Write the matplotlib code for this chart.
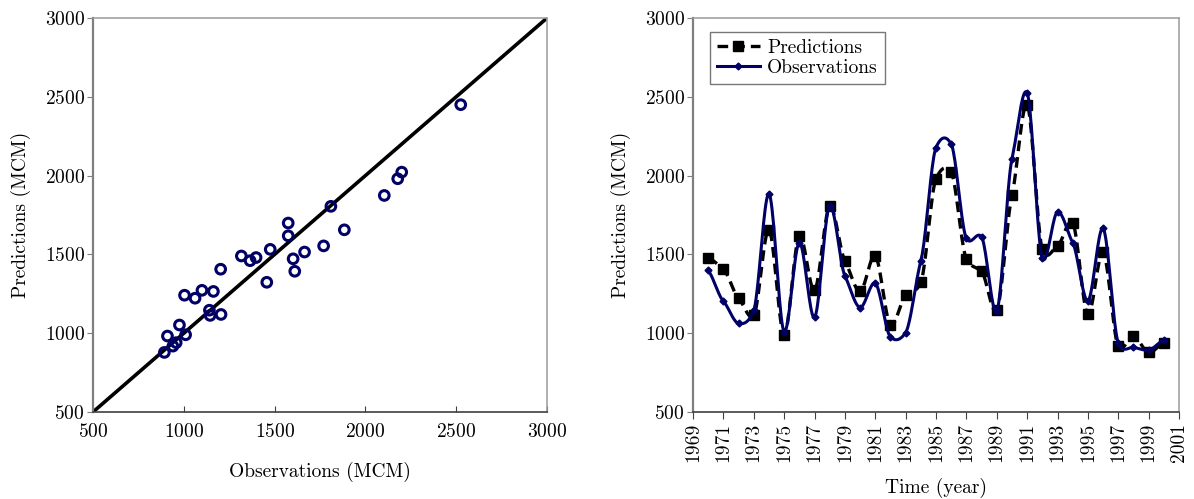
import matplotlib
matplotlib.use("Agg")
import numpy as np
import matplotlib.pyplot as plt

plt.rcParams['font.family'] = 'serif'
plt.rcParams['font.serif'] = ['cmr10']
plt.rcParams['mathtext.fontset'] = 'cm'
plt.rcParams['axes.formatter.use_mathtext'] = True

# ── data ──
YEARS = list(range(1970, 2001))
OBSERVED = [1398, 1203, 1062, 1145, 1884, 1010, 1575, 1100, 1810, 1365,
            1163, 1317, 976, 1004, 1457, 2178, 2200, 1602, 1611, 1141,
            2104, 2525, 1476, 1770, 1575, 1205, 1665, 940, 910, 893, 958]
PREDICTED = [1480, 1406, 1222, 1113, 1656, 990, 1618, 1272, 1805, 1460,
             1265, 1490, 1052, 1241, 1323, 1980, 2022, 1472, 1393, 1146,
             1874, 2450, 1532, 1554, 1699, 1119, 1515, 918, 982, 878, 940]

AXIS_TICKS = [500, 1000, 1500, 2000, 2500, 3000]
YEAR_TICKS = list(range(1969, 2002, 2))

NAVY = '#000066'


def smooth(x, y, n=20, tension=0.6):
    # cubic Hermite through the points (spreadsheet-like "smoothed line")
    x = np.asarray(x, float)
    y = np.asarray(y, float)
    py = np.concatenate([[2 * y[0] - y[1]], y, [2 * y[-1] - y[-2]]])
    m = tension * (py[2:] - py[:-2]) / 2.0
    t = np.linspace(0, 1, n, endpoint=False)
    h00 = 2 * t ** 3 - 3 * t ** 2 + 1
    h10 = t ** 3 - 2 * t ** 2 + t
    h01 = -2 * t ** 3 + 3 * t ** 2
    h11 = t ** 3 - t ** 2
    xs, ys = [], []
    for i in range(len(x) - 1):
        xs.extend(x[i] + (x[i + 1] - x[i]) * t)
        ys.extend(h00 * y[i] + h10 * m[i] + h01 * y[i + 1] + h11 * m[i + 1])
    xs.append(x[-1])
    ys.append(y[-1])
    return np.array(xs), np.array(ys)


def style_box(ax):
    ax.spines['left'].set_color('#7f7f7f')
    ax.spines['left'].set_linewidth(1.6)
    ax.spines['bottom'].set_color('#404040')
    ax.spines['bottom'].set_linewidth(1.2)
    for s in ('top', 'right'):
        ax.spines[s].set_color('#9a9a9a')
        ax.spines[s].set_linewidth(1.1)


fig = plt.figure(figsize=(11.94, 4.99), dpi=100)

# ── Left panel: predictions vs observations ──
ax = fig.add_axes([93 / 1194, 87 / 499, 454 / 1194, 394 / 499])
ax.plot([500, 3000], [500, 3000], color='black', lw=2.6, zorder=2)
ax.scatter(OBSERVED, PREDICTED, s=48, facecolors='none', edgecolors=NAVY,
           linewidths=2.2, zorder=3)
ax.set_xlim(500, 3000)
ax.set_ylim(500, 3000)
ax.set_xticks(AXIS_TICKS)
ax.set_yticks(AXIS_TICKS)
ax.tick_params(axis='x', direction='in', length=4, labelsize=14, pad=8, color='#404040')
ax.tick_params(axis='y', direction='out', length=4, labelsize=14, pad=2, color='#7f7f7f')
ax.set_xlabel('Observations (MCM)', fontsize=14, labelpad=15)
ax.set_ylabel('Predictions (MCM)', fontsize=14, labelpad=10)
style_box(ax)

# ── Right panel: time series ──
ax2 = fig.add_axes([693 / 1194, 87 / 499, 486 / 1194, 394 / 499])
sx, sy = smooth(YEARS, PREDICTED)
ax2.plot(sx, sy, color='black', lw=2.4, ls=(0, (3.2, 1.8)), zorder=2)
ax2.plot(YEARS, PREDICTED, ls='none', marker='s', ms=6.5, color='black', zorder=3)
ox, oy = smooth(YEARS, OBSERVED)
ax2.plot(ox, oy, color=NAVY, lw=2.2, zorder=4)
ax2.plot(YEARS, OBSERVED, ls='none', marker='D', ms=3.5, color=NAVY, zorder=5)

# legend proxies
ax2.plot([], [], color='black', lw=2.4, ls=(0, (3.2, 1.8)), marker='s', ms=6.5,
         label='Predictions')
ax2.plot([], [], color=NAVY, lw=2.2, marker='D', ms=3.5, label='Observations')
leg = ax2.legend(loc='upper left', bbox_to_anchor=(0.035, 0.965), fontsize=14,
                 frameon=True, fancybox=False, edgecolor='#555555',
                 handlelength=2.2, handletextpad=0.4, borderpad=0.35,
                 labelspacing=0.12, borderaxespad=0.0)
leg.get_frame().set_linewidth(1.0)

ax2.set_xlim(1969, 2001)
ax2.set_ylim(500, 3000)
ax2.set_xticks(YEAR_TICKS)
ax2.set_xticklabels([str(y) for y in YEAR_TICKS], rotation=90)
ax2.set_yticks(AXIS_TICKS)
ax2.tick_params(axis='x', direction='out', length=5, labelsize=14, pad=3, color='#404040')
ax2.tick_params(axis='y', direction='out', length=4, labelsize=14, pad=2, color='#7f7f7f')
ax2.set_xlabel('Time (year)', fontsize=14, labelpad=11)
ax2.set_ylabel('Predictions (MCM)', fontsize=14, labelpad=10)
style_box(ax2)

fig.savefig('out.png', dpi=100)
